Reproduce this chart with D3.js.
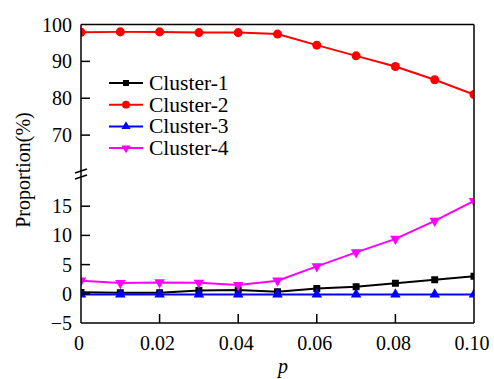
<!DOCTYPE html>
<html>
<head>
<meta charset="utf-8">
<script src="https://cdn.jsdelivr.net/npm/d3@7"></script>
<style>
  body { margin: 0; background: #fff; }
  text { font-family: "Liberation Serif", "Times New Roman", serif; }
</style>
</head>
<body>
<svg width="494" height="379"></svg>
<script>
var pValues = [0, 0.01, 0.02, 0.03, 0.04, 0.05, 0.06, 0.07, 0.08, 0.09, 0.10];
var cluster1 = [0.25, 0.2, 0.2, 0.55, 0.65, 0.35, 0.9, 1.2, 1.8, 2.4, 3.0];
var cluster2 = [97.9, 98.0, 98.0, 97.8, 97.8, 97.4, 94.4, 91.5, 88.6, 85.0, 81.0];
var cluster3 = [-0.1, -0.1, -0.1, -0.1, -0.1, -0.1, -0.1, -0.1, -0.1, -0.1, -0.1];
var cluster4 = [2.25, 1.85, 1.95, 1.9, 1.5, 2.25, 4.7, 7.1, 9.4, 12.5, 15.9];
var seriesNames = ['Cluster-1', 'Cluster-2', 'Cluster-3', 'Cluster-4'];
var xTicks = [0, 0.02, 0.04, 0.06, 0.08, 0.10];
var upperTicks = [70, 80, 90, 100];
var lowerTicks = [-5, 0, 5, 10, 15];

var svg = d3.select('svg');
var plotLeft = 81, plotRight = 474, plotTop = 24.5, plotBottom = 323;

var x = d3.scaleLinear().domain([0, 0.1]).range([plotLeft, plotRight]);
var yUp = d3.scaleLinear().domain([60, 100]).range([172, plotTop]);
var yLow = d3.scaleLinear().domain([-5, 20]).range([plotBottom, 177]);

var series = [
  {name: seriesNames[0], values: cluster1, color: '#000000', shape: d3.symbolSquare, size: 48, y: yLow, rot: 0},
  {name: seriesNames[1], values: cluster2, color: '#ff0000', shape: d3.symbolCircle, size: 64, y: yUp, rot: 0},
  {name: seriesNames[2], values: cluster3, color: '#0000ff', shape: d3.symbolTriangle, size: 48, y: yLow, rot: 0},
  {name: seriesNames[3], values: cluster4, color: '#ff00ff', shape: d3.symbolTriangle, size: 48, y: yLow, rot: 180}
];

svg.append('clipPath').attr('id', 'plotClip')
  .append('rect').attr('x', plotLeft).attr('y', plotTop)
  .attr('width', plotRight - plotLeft).attr('height', plotBottom - plotTop);

var plot = svg.append('g').attr('clip-path', 'url(#plotClip)');

// 按顺序画线和标记
[0, 2, 3, 1].forEach(function (i) {
  var s = series[i];
  var line = d3.line()
    .x(function (d, j) { return x(pValues[j]); })
    .y(function (d) { return s.y(d); });
  plot.append('path')
    .attr('d', line(s.values))
    .attr('fill', 'none')
    .attr('stroke', s.color)
    .attr('stroke-width', 2);
  plot.selectAll(null).data(s.values).enter().append('path')
    .attr('d', d3.symbol().type(s.shape).size(s.size))
    .attr('transform', function (d, j) {
      return 'translate(' + x(pValues[j]) + ',' + s.y(d) + ') rotate(' + s.rot + ')';
    })
    .attr('fill', s.color);
});

// frame
var frame = svg.append('g').attr('stroke', '#000').attr('stroke-width', 1.5).attr('fill', 'none');
frame.append('line').attr('x1', plotLeft).attr('x2', plotRight).attr('y1', plotTop).attr('y2', plotTop);
frame.append('line').attr('x1', plotLeft).attr('x2', plotRight).attr('y1', plotBottom).attr('y2', plotBottom);
frame.append('line').attr('x1', plotLeft).attr('x2', plotLeft).attr('y1', plotTop).attr('y2', plotBottom);
frame.append('line').attr('x1', plotRight).attr('x2', plotRight).attr('y1', plotTop).attr('y2', plotBottom);

// break marks
frame.append('line').attr('x1', 75).attr('y1', 173).attr('x2', 87).attr('y2', 169);
frame.append('line').attr('x1', 75).attr('y1', 179).attr('x2', 87).attr('y2', 175);

// ticks (inward)
xTicks.slice(1, -1).forEach(function (t) {
  frame.append('line').attr('x1', x(t)).attr('x2', x(t)).attr('y1', plotBottom).attr('y2', plotBottom - 9);
});
upperTicks.slice(0, -1).forEach(function (t) {
  frame.append('line').attr('x1', plotLeft).attr('x2', plotLeft + 9).attr('y1', yUp(t)).attr('y2', yUp(t));
});
lowerTicks.slice(1).forEach(function (t) {
  frame.append('line').attr('x1', plotLeft).attr('x2', plotLeft + 9).attr('y1', yLow(t)).attr('y2', yLow(t));
});

// tick labels
var fs = 20;
svg.selectAll('.xl').data(xTicks).enter().append('text')
  .attr('x', function (d) { return x(d) - 2; })
  .attr('y', 350)
  .attr('text-anchor', 'middle')
  .attr('font-size', fs)
  .text(function (d) { return d === 0 ? '0' : d.toFixed(2); });

svg.selectAll('.yu').data(upperTicks).enter().append('text')
  .attr('x', 72).attr('y', function (d) { return yUp(d) + 7; })
  .attr('text-anchor', 'end').attr('font-size', fs)
  .text(function (d) { return d; });

svg.selectAll('.yl').data(lowerTicks).enter().append('text')
  .attr('x', 72).attr('y', function (d) { return yLow(d) + 7; })
  .attr('text-anchor', 'end').attr('font-size', fs)
  .text(function (d) { return d < 0 ? '\u2212' + Math.abs(d) : d; });

// axis titles
svg.append('text')
  .attr('x', 283).attr('y', 373)
  .attr('text-anchor', 'middle').attr('font-size', fs).attr('font-style', 'italic')
  .text('p');
svg.append('text')
  .attr('transform', 'translate(30,170) rotate(-90)')
  .attr('text-anchor', 'middle').attr('font-size', fs)
  .text('Proportion(%)');

// legend
var legend = svg.append('g');
series.forEach(function (s, i) {
  var ly = 83 + i * 21.7;
  legend.append('line').attr('x1', 109).attr('x2', 143).attr('y1', ly).attr('y2', ly)
    .attr('stroke', s.color).attr('stroke-width', 2);
  legend.append('path')
    .attr('d', d3.symbol().type(s.shape).size(s.size * 0.75))
    .attr('transform', 'translate(126,' + ly + ') rotate(' + s.rot + ')')
    .attr('fill', s.color);
  legend.append('text').attr('x', 149).attr('y', ly + 7)
    .attr('font-size', 21.5).text(s.name);
});
</script>
</body>
</html>
